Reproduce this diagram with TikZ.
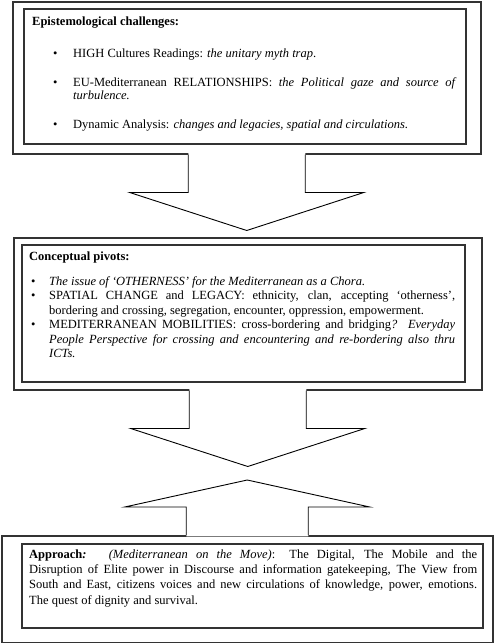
\documentclass[tikz,border=0pt]{standalone}
\usepackage{fontspec}
\setmainfont{Liberation Serif}
\usepackage{enumitem}
\usetikzlibrary{calc}
\hyphenpenalty=10000
\exhyphenpenalty=10000
\tolerance=10000
\def\blockarrow(#1)(#2:#3:#4:#5){
	\fill[white] ($(#1)+({-#2},{-0.05*(#4)})$) -- ($(#1)+({-#2},#4)$) -- ($(#1)+({-#3},#4)$) -- ($(#1)+(0,#5)$) -- ($(#1)+(#3,#4)$) -- ($(#1)+(#2,#4)$) -- ($(#1)+(#2,{-0.05*(#4)})$) -- cycle;
	\draw[arrowline] ($(#1)+({-#2},0)$) -- ($(#1)+({-#2},#4)$) -- ($(#1)+({-#3},#4)$) -- ($(#1)+(0,#5)$) -- ($(#1)+(#3,#4)$) -- ($(#1)+(#2,#4)$) -- ($(#1)+(#2,0)$);
}
\tikzset{
	frame/.style={draw=black!80, line width=1.5pt, anchor=north west, inner sep=0pt},
	textblock/.style={anchor=north west, inner sep=0pt, align=justify},
	arrowline/.style={draw=black, line width=0.9pt, line join=miter}
}

\begin{document}
\begin{tikzpicture}[x=1pt, y=-1pt]
			%%%%% START %%%%%
			\useasboundingbox (0, 0) rectangle (493, 643);
			
			\node[frame, minimum width=468pt, minimum height=152pt] (epiOuter) at (12, 1) {};
			\node[frame, minimum width=442pt, minimum height=135pt] (epiInner) at (23, 8) {};
			
			\node[frame, minimum width=468pt, minimum height=152pt] (pivOuter) at (13, 237) {};
			\node[frame, minimum width=443pt, minimum height=137pt] (pivInner) at (21, 244) {};
			
			\node[frame, minimum width=491pt, minimum height=107pt] (appOuter) at (1, 535) {};
			\node[frame, minimum width=461pt, minimum height=84pt] (appInner) at (21, 543) {};
			
			\blockarrow(epiOuter.south)(58.5:117:38:76)
			\blockarrow(pivOuter.south)(58.5:117:38:76)
			\blockarrow(appOuter.north)(61:122.5:-28:-55)
			
			\node[textblock, text width=423pt, font=\fontsize{12.5}{13.5}\selectfont] (epiText) at (32, 16.5) {%
				\textbf{Epistemological challenges:}
				\begin{itemize}[leftmargin=41pt, labelwidth=20pt, labelsep=0pt, align=left, topsep=18.5pt, partopsep=0pt, itemsep=15.5pt, parsep=0pt, label=\textbullet]
					\item HIGH Cultures Readings: \textit{the unitary myth trap}.
					\item EU-Mediterranean RELATIONSHIPS: \textit{the Political gaze and source of turbulence.}
					\item Dynamic Analysis: \textit{changes and legacies, spatial and circulations.}
				\end{itemize}};
			
			\node[textblock, text width=426pt, font=\fontsize{12.5}{14.5}\selectfont] (pivText) at (29, 251.5) {%
				\textbf{Conceptual pivots:}
				\begin{itemize}[leftmargin=20pt, labelwidth=18pt, labelsep=0pt, align=left, topsep=10.5pt, partopsep=0pt, itemsep=0pt, parsep=0pt, label=\textbullet]
					\item \textit{The issue of ‘OTHERNESS’ for the Mediterranean as a Chora.}
					\item SPATIAL CHANGE and LEGACY: ethnicity, clan, accepting ‘otherness’, bordering and crossing, segregation, encounter, oppression, empowerment.
					\item MEDITERRANEAN MOBILITIES: cross-bordering and bridging\textit{? Everyday People Perspective for crossing and encountering and re-bordering also thru\linebreak ICTs.}
				\end{itemize}};
			
			\node[textblock, text width=448pt, font=\fontsize{12.5}{15.3}\selectfont] (appText) at (29, 549.5) {%
				\textbf{Approach\textit{:}}~ \textit{(Mediterranean on the Move)}: The Digital, The Mobile and the\linebreak Disruption of Elite power in Discourse and information gatekeeping, The View from\linebreak South and East, citizens voices and new circulations of knowledge, power, emotions.\linebreak The quest of dignity and survival.};
			
			%%%%% END %%%%%
\end{tikzpicture}
\end{document}
